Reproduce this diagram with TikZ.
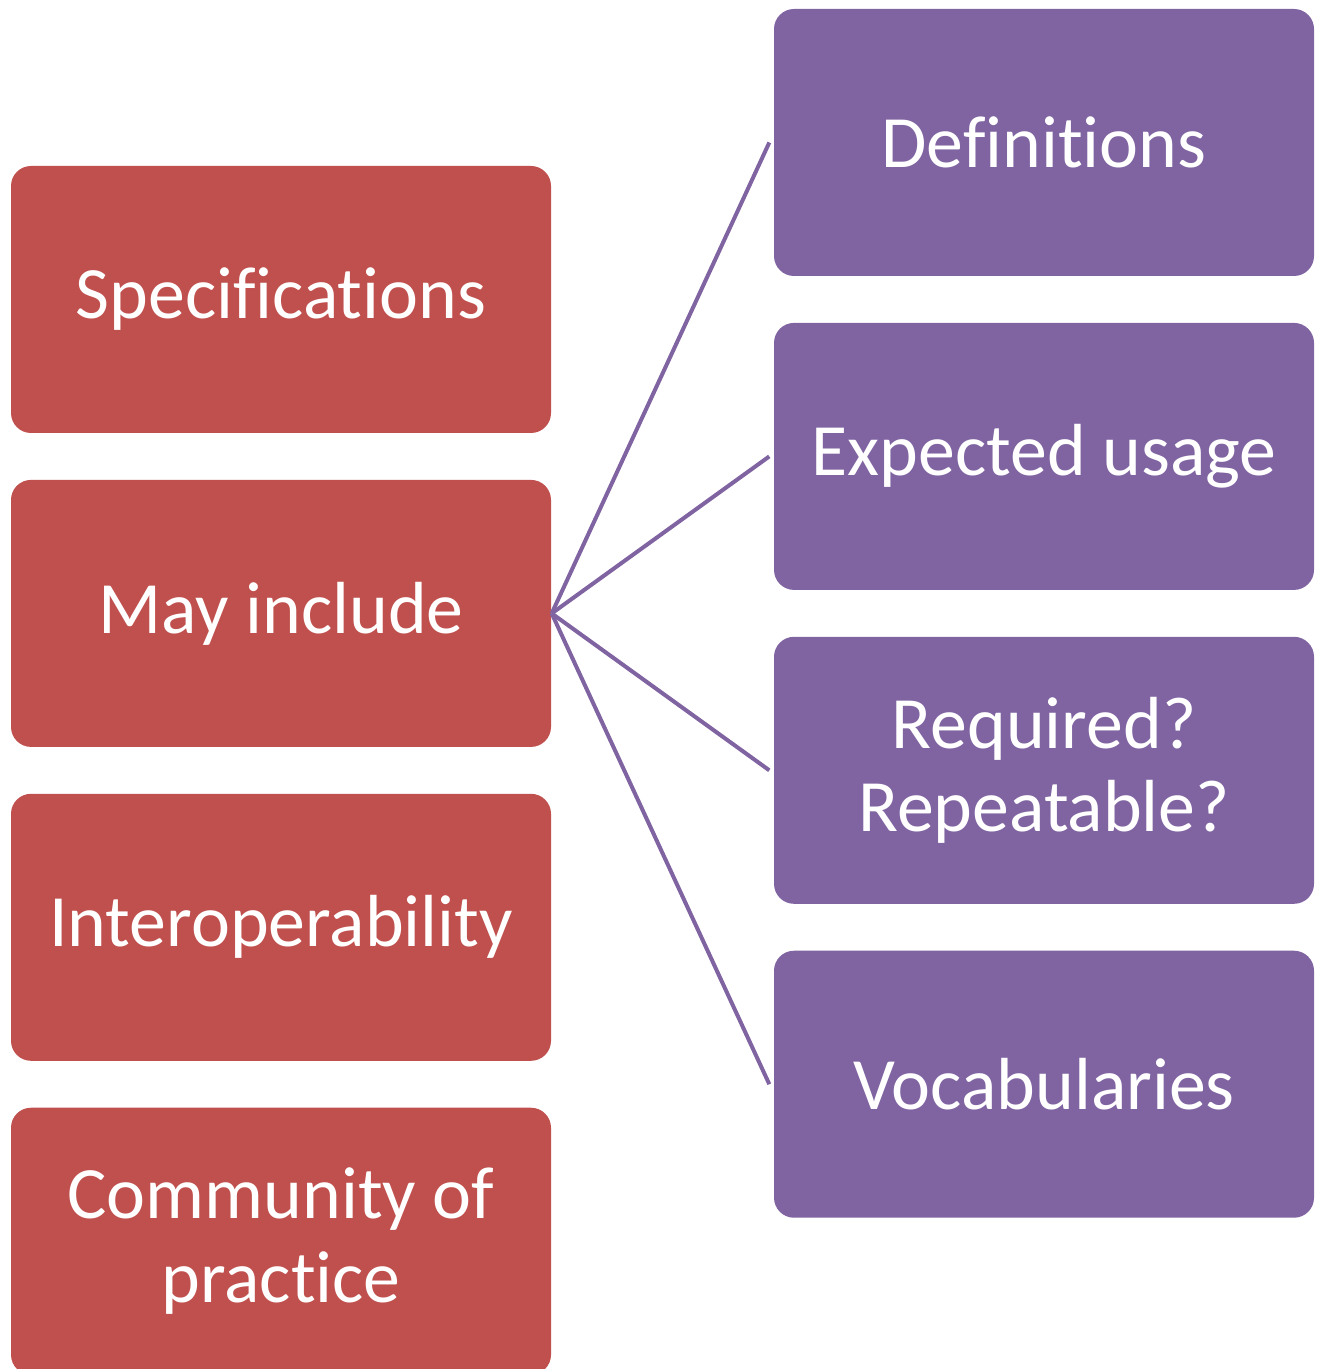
\documentclass[tikz,border=0pt]{standalone}
\usepackage{fontspec}
\setmainfont[Ligatures={NoCommon,NoRequired,NoContextual}]{Carlito}
\usepackage{tikz}
\usetikzlibrary{positioning}
\definecolor{boxred}{HTML}{C0504D}
\definecolor{boxpurple}{HTML}{8064A2}
\tikzset{
  redbox/.style    = {fill=boxred, text=white, rounded corners=0.2cm, align=center,
                      minimum width=5.4cm, minimum height=2.67cm, inner sep=0pt,
                      font=\fontsize{21}{23.8}\selectfont},
  purplebox/.style = {fill=boxpurple, text=white, rounded corners=0.2cm, align=center,
                      minimum width=5.4cm, minimum height=2.67cm, inner sep=0pt,
                      font=\fontsize{21}{23.8}\selectfont},
  link/.style      = {draw=boxpurple, line width=0.04cm},
}
\begin{document}
\begin{tikzpicture}[node distance=0.455cm]
  \useasboundingbox (0,0) rectangle (13.27,-13.69);

  \node[redbox] (spec) at (2.81,-2.995) {Specifications};
  \node[redbox, below=of spec] (inc)  {May include};
  \node[redbox, below=of inc]  (inter) {Interoperability};
  \node[redbox, below=of inter] (comm) {Community of\\practice};

  \node[purplebox] (def) at (10.44,-1.425) {Definitions};
  \node[purplebox, below=of def] (use) {Expected usage};
  \node[purplebox, below=of use] (req) {Required?\\Repeatable?};
  \node[purplebox, below=of req] (voc) {Vocabularies};

  \draw[link] (inc.east) -- ([xshift=-0.04cm]def.west);
  \draw[link] (inc.east) -- ([xshift=-0.04cm]use.west);
  \draw[link] (inc.east) -- ([xshift=-0.04cm]req.west);
  \draw[link] (inc.east) -- ([xshift=-0.04cm]voc.west);
\end{tikzpicture}
\end{document}
